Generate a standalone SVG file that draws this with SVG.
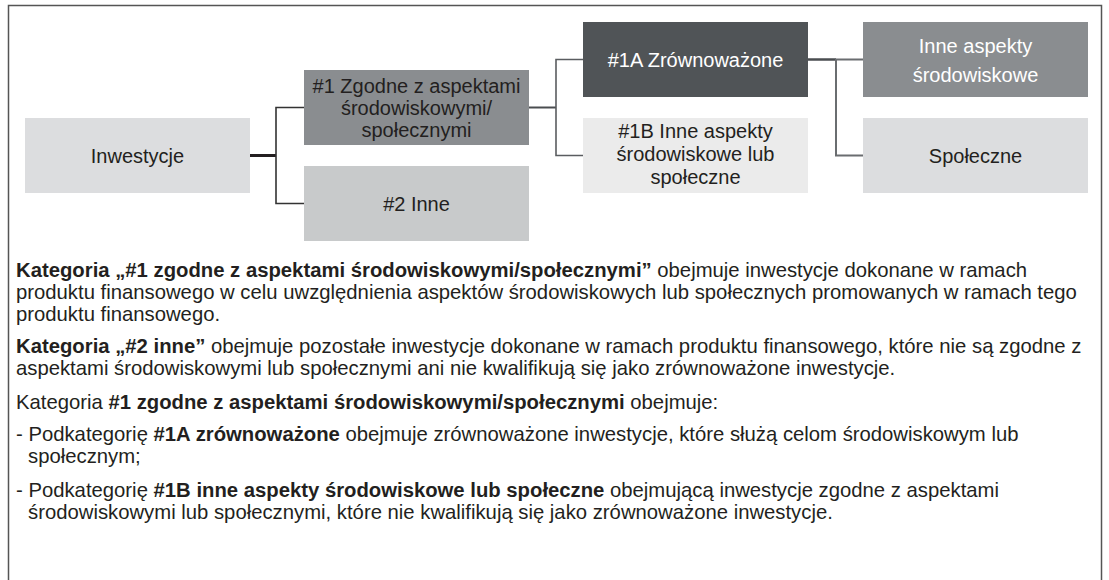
<svg xmlns="http://www.w3.org/2000/svg" width="1109" height="580" viewBox="0 0 1109 580">
<style>
.t{font-family:"Liberation Sans",Arial,sans-serif;font-size:20px;fill:#231f20}
.p{font-size:20.3px}
.c{text-anchor:middle}
.w{fill:#ffffff}
.b{font-weight:bold}
.ln{fill:none;stroke-linecap:butt;stroke-linejoin:miter}
</style>
<rect x="8.5" y="5.5" width="1093" height="620" fill="#ffffff" stroke="#555555" stroke-width="1.5"/>
<g id="connectors" class="ln">
<path d="M250 155.5 H276" stroke="#231f20" stroke-width="3"/>
<path d="M304 107.5 H276 V203.5 H304" stroke="#333333" stroke-width="1.6"/>
<path d="M529 107.5 H556" stroke="#4a4d50" stroke-width="2"/>
<path d="M583 59.5 H556 V155.5 H583" stroke="#5a5d60" stroke-width="1.6"/>
<path d="M808 59.5 H836" stroke="#4a4d50" stroke-width="2.5"/>
<path d="M863 59.5 H836 V155.5 H863" stroke="#6a6d70" stroke-width="2"/>
</g>
<g id="n-inwestycje">
<rect x="25" y="118" width="225" height="75" fill="#dcdddf"/>
<text class="t c" x="137.5" y="163">Inwestycje</text>
</g>
<g id="n-1">
<rect x="304" y="70" width="225" height="75" fill="#8a8d90"/>
<text class="t c" x="416.5" y="93">#1 Zgodne z aspektami</text>
<text class="t c" x="416.5" y="115">środowiskowymi/</text>
<text class="t c" x="416.5" y="137">społecznymi</text>
</g>
<g id="n-2">
<rect x="304" y="166" width="225" height="75" fill="#c8cacb"/>
<text class="t c" x="416.5" y="211">#2 Inne</text>
</g>
<g id="n-1a">
<rect x="583" y="22" width="225" height="75" fill="#505457"/>
<text class="t c w" x="695.5" y="67">#1A Zrównoważone</text>
</g>
<g id="n-1b">
<rect x="583" y="118" width="225" height="75" fill="#ebebeb"/>
<text class="t c" x="695.5" y="138">#1B Inne aspekty</text>
<text class="t c" x="695.5" y="161">środowiskowe lub</text>
<text class="t c" x="695.5" y="184">społeczne</text>
</g>
<g id="n-inne">
<rect x="863" y="22" width="225" height="75" fill="#8a8d90"/>
<text class="t c w" x="975.5" y="53">Inne aspekty</text>
<text class="t c w" x="975.5" y="82">środowiskowe</text>
</g>
<g id="n-spoleczne">
<rect x="863" y="118" width="225" height="75" fill="#dcdddf"/>
<text class="t c" x="975.5" y="163">Społeczne</text>
</g>
<g id="legend">
<text class="t p" x="16" y="277"><tspan class="b">Kategoria „#1 zgodne z aspektami środowiskowymi/społecznymi”</tspan> obejmuje inwestycje dokonane w ramach</text>
<text class="t p" x="16" y="299">produktu finansowego w celu uwzględnienia aspektów środowiskowych lub społecznych promowanych w ramach tego</text>
<text class="t p" x="16" y="321">produktu finansowego.</text>
<text class="t p" x="16" y="353"><tspan class="b">Kategoria „#2 inne”</tspan> obejmuje pozostałe inwestycje dokonane w ramach produktu finansowego, które nie są zgodne z</text>
<text class="t p" x="16" y="375">aspektami środowiskowymi lub społecznymi ani nie kwalifikują się jako zrównoważone inwestycje.</text>
<text class="t p" x="16" y="409">Kategoria <tspan class="b">#1 zgodne z aspektami środowiskowymi/społecznymi</tspan> obejmuje:</text>
<text class="t p" x="16" y="441">- Podkategorię <tspan class="b">#1A zrównoważone</tspan> obejmuje zrównoważone inwestycje, które służą celom środowiskowym lub</text>
<text class="t p" x="28" y="463">społecznym;</text>
<text class="t p" x="16" y="497">- Podkategorię <tspan class="b">#1B inne aspekty środowiskowe lub społeczne</tspan> obejmującą inwestycje zgodne z aspektami</text>
<text class="t p" x="28" y="519">środowiskowymi lub społecznymi, które nie kwalifikują się jako zrównoważone inwestycje.</text>
</g>
</svg>
